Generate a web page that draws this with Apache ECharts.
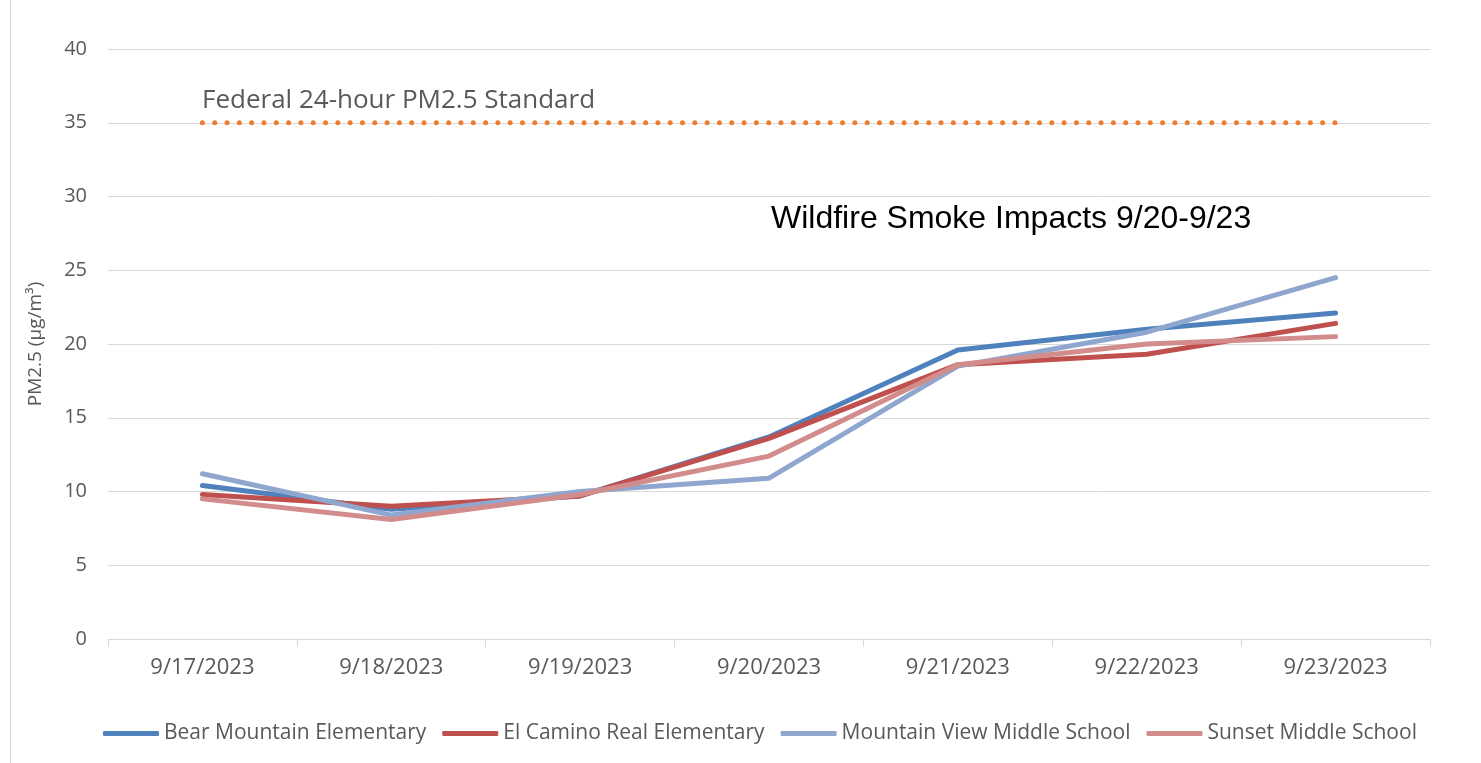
<!DOCTYPE html>
<html>
<head>
<meta charset="utf-8">
<script src="https://cdn.jsdelivr.net/npm/echarts@6/dist/echarts.min.js"></script>
<style>
  html, body { margin: 0; padding: 0; background: #fff; }
  #chart { position: absolute; left: 10px; top: 0; width: 1471px; height: 763px; border-left: 1px solid #d9d9d9; box-sizing: border-box; }
</style>
</head>
<body>
<div id="chart"></div>
<script>
var dates = ["9/17/2023", "9/18/2023", "9/19/2023", "9/20/2023", "9/21/2023", "9/22/2023", "9/23/2023"];
var bearMountain = [10.4, 8.8, 9.7, 13.7, 19.6, 21.0, 22.1];
var elCamino = [9.8, 9.0, 9.7, 13.6, 18.6, 19.3, 21.4];
var mountainView = [11.2, 8.4, 10.0, 10.9, 18.5, 20.8, 24.5];
var sunset = [9.5, 8.1, 9.8, 12.4, 18.6, 20.0, 20.5];
var federalStandard = [35, 35, 35, 35, 35, 35, 35];
var yTicks = [0, 5, 10, 15, 20, 25, 30, 35, 40];

var gray = "#595959";
var font = "'Open Sans', sans-serif";

function schoolLine(name, data, color) {
    return {
        name: name,
        type: 'line',
        data: data,
        symbol: 'none',
        lineStyle: { color: color, width: 5, cap: 'round', join: 'round' },
        itemStyle: { color: color }
    };
}

var chart = echarts.init(document.querySelector("#chart"));
chart.setOption({
    animation: false,
    grid: { left: 97, right: 51, top: 49, bottom: 124 },
    xAxis: {
        type: 'category',
        data: dates,
        boundaryGap: true,
        axisLine: { lineStyle: { color: '#d9d9d9', width: 1 } },
        axisTick: { show: true, length: 8, lineStyle: { color: '#d9d9d9' } },
        axisLabel: { color: gray, fontSize: 22, fontFamily: font, margin: 18 }
    },
    yAxis: {
        type: 'value',
        min: yTicks[0],
        max: yTicks[yTicks.length - 1],
        interval: 5,
        name: 'PM2.5 (µg/m³)',
        nameLocation: 'middle',
        nameGap: 63,
        nameTextStyle: { color: gray, fontSize: 19, fontFamily: font },
        axisLine: { show: false },
        axisTick: { show: false },
        axisLabel: { color: gray, fontSize: 20, fontFamily: font, margin: 21 },
        splitLine: { lineStyle: { color: '#d9d9d9', width: 1 } }
    },
    legend: {
        bottom: 14,
        left: 87,
        itemWidth: 56,
        itemHeight: 5,
        itemGap: 16,
        icon: 'roundRect',
        textStyle: { color: gray, fontSize: 21, fontFamily: font },
        data: ['Bear Mountain Elementary', 'El Camino Real Elementary', 'Mountain View Middle School', 'Sunset Middle School']
    },
    graphic: [
        {
            type: 'text', left: 191, top: 88,
            style: { text: 'Federal 24-hour PM2.5 Standard', fill: gray, font: "26px 'Open Sans', sans-serif" }
        },
        {
            type: 'text', left: 760, top: 203,
            style: { text: 'Wildfire Smoke Impacts 9/20-9/23', fill: '#000', font: "32px 'Liberation Sans', Arial, sans-serif" }
        }
    ],
    series: [
        {
            name: 'Federal Standard',
            type: 'line',
            data: federalStandard,
            symbol: 'none',
            lineStyle: { color: '#ED7D31', width: 5, type: [0.01, 12.3], cap: 'round' }
        },
        schoolLine('Bear Mountain Elementary', bearMountain, '#4F81BD'),
        schoolLine('El Camino Real Elementary', elCamino, '#C0504D'),
        schoolLine('Mountain View Middle School', mountainView, '#8FA7CE'),
        schoolLine('Sunset Middle School', sunset, '#D38C8C')
    ]
});
</script>
</body>
</html>
